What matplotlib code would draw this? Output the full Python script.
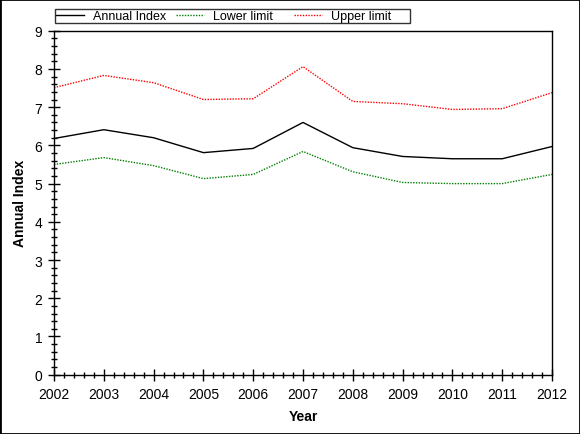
import matplotlib
matplotlib.use('Agg')
import matplotlib.pyplot as plt
from matplotlib.patches import Rectangle
from matplotlib.ticker import MultipleLocator

years = [2002, 2003, 2004, 2005, 2006, 2007, 2008, 2009, 2010, 2011, 2012]
annual_index = [6.18, 6.41, 6.20, 5.81, 5.92, 6.60, 5.94, 5.71, 5.65, 5.65, 5.97]
lower_limit = [5.50, 5.68, 5.47, 5.13, 5.24, 5.84, 5.31, 5.03, 5.00, 5.00, 5.24]
upper_limit = [7.51, 7.83, 7.64, 7.20, 7.22, 8.06, 7.15, 7.09, 6.94, 6.96, 7.38]

plt.rcParams['font.family'] = ['Liberation Sans', 'DejaVu Sans']
plt.rcParams['font.size'] = 10

fig = plt.figure(figsize=(5.8, 4.35), dpi=100)
ax = fig.add_axes([0.0931, 0.1363, 0.8586, 0.7908])

# trailing spaces keep the legend columns about equally wide, like the original
ax.plot(years, annual_index, color='black', lw=1.0, label='Annual Index')
ax.plot(years, lower_limit, color='green', lw=1.0, ls=(0, (1, 1)), label='Lower limit   ')
ax.plot(years, upper_limit, color='red', lw=1.0, ls=(0, (1, 1)), label='Upper limit     ')

ax.set_xlim(2002, 2012)
ax.set_ylim(0, 9)
ax.xaxis.set_major_locator(MultipleLocator(1))
ax.xaxis.set_minor_locator(MultipleLocator(0.2))
ax.yaxis.set_major_locator(MultipleLocator(1))
ax.yaxis.set_minor_locator(MultipleLocator(0.2))
ax.tick_params(which='major', direction='inout', length=8, width=1, top=False, right=False)
ax.tick_params(which='minor', direction='inout', length=4.3, width=1, top=False, right=False)
ax.tick_params(axis='both', which='major', labelsize=10, pad=4.5)
for s in ax.spines.values():
    s.set_linewidth(1.0)

ax.set_xlabel('Year', fontweight='bold', fontsize=10, labelpad=6)
ax.set_ylabel('Annual Index', fontweight='bold', fontsize=10, labelpad=5)

leg = ax.legend(loc='lower left', bbox_to_anchor=(0.002, 1.0215), ncol=3, frameon=True,
                fancybox=False, edgecolor='black', borderpad=0.1, handlelength=2.24,
                columnspacing=0.8, handletextpad=0.72, fontsize=9, borderaxespad=0)
leg.get_frame().set_linewidth(1.0)

fig.patches.append(Rectangle((0, 0), 1, 1, transform=fig.transFigure, fill=False,
                             edgecolor='black', lw=2))

fig.savefig('out.png', dpi=100)
